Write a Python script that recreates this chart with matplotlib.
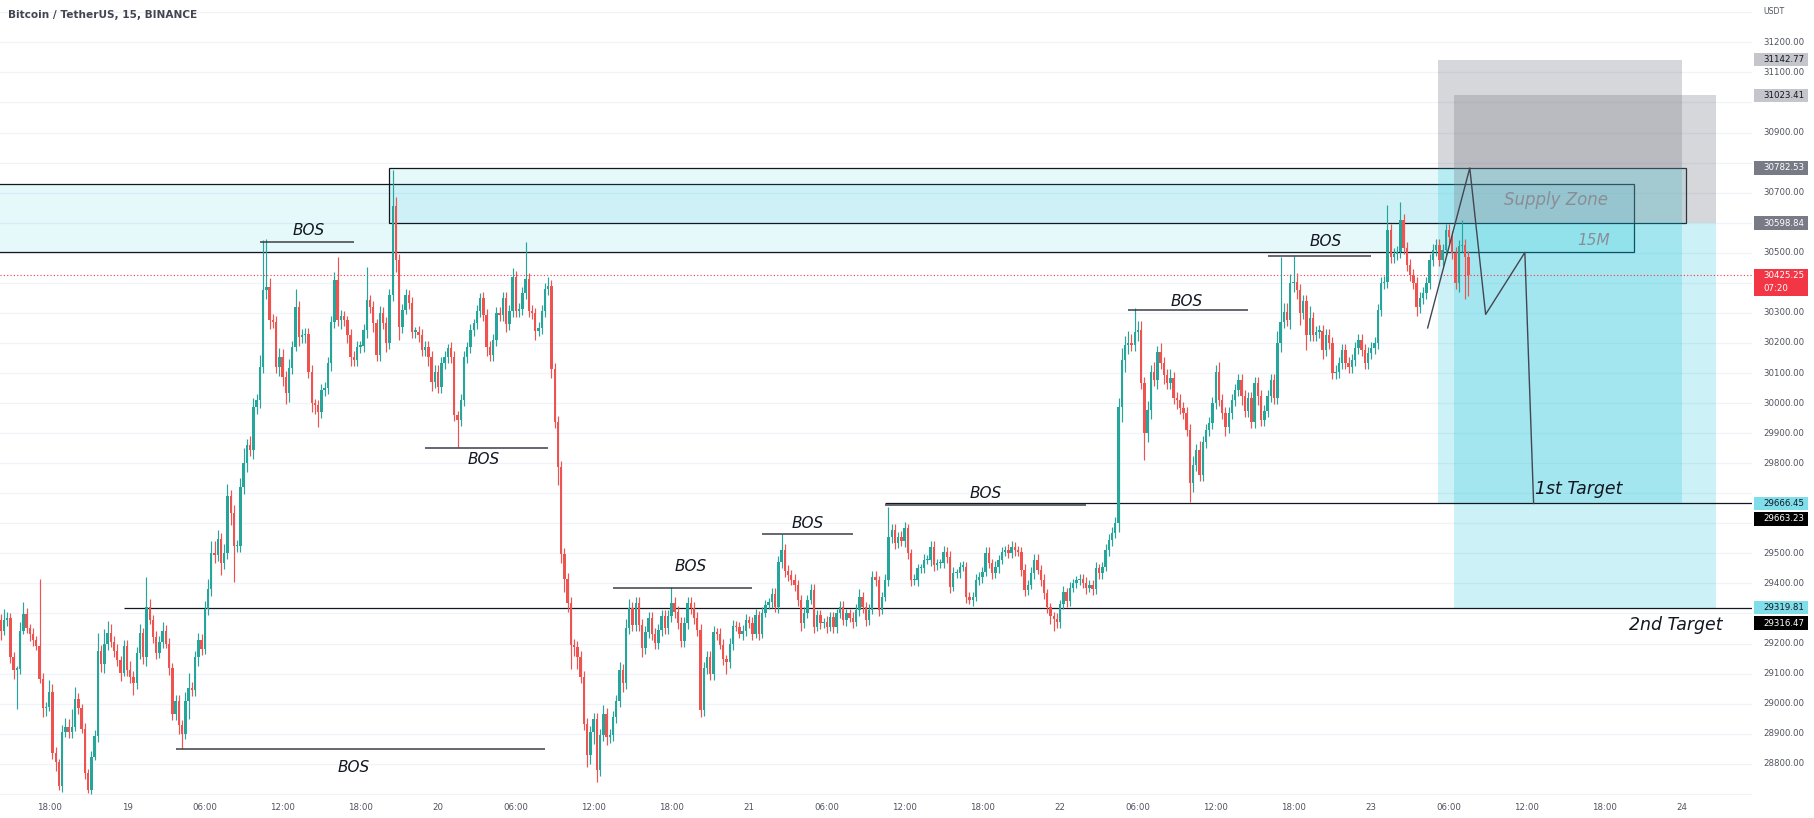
import numpy as np
import matplotlib
matplotlib.use("Agg")
import matplotlib.pyplot as plt
from matplotlib.patches import Rectangle

W, H = 1814, 818

# 15 minute candles, BTC/USDT, from 18 Jun 14:15 to 23 Jun 07:30
first_open = 29279
closes = [
    29242, 29279, 29285, 29156, 29113, 29115, 29242, 29297, 29250, 29230,
    29211, 29193, 29082, 28984, 28990, 29039, 28837, 28806, 28726, 28904,
    28923, 28904, 28923, 29015, 28984, 28916, 28769, 28714, 28824, 28892,
    29174, 29131, 29199, 29236, 29205, 29174, 29144, 29101, 29193, 29113,
    29088, 29070, 29168, 29236, 29156, 29322, 29279, 29223, 29168, 29205,
    29242, 29199, 29119, 28966, 29008, 28929, 28898, 29008, 29051, 29045,
    29156, 29211, 29181, 29316, 29383, 29500, 29494, 29549, 29469, 29500,
    29690, 29635, 29524, 29524, 29721, 29800, 29860, 29845, 29988, 30010,
    30121, 30376, 30387, 30276, 30271, 30121, 30154, 30088, 30032, 30116,
    30188, 30321, 30221, 30226, 30230, 30105, 30000, 29995, 29971, 30044,
    30050, 30132, 30271, 30410, 30276, 30290, 30276, 30226, 30154, 30143,
    30188, 30190, 30243, 30343, 30320, 30265, 30160, 30299, 30265, 30199,
    30360, 30654, 30476, 30254, 30310, 30360, 30332, 30238, 30238, 30227,
    30177, 30188, 30154, 30071, 30105, 30055, 30132, 30154, 30182, 30154,
    29960, 29944, 30010, 30154, 30188, 30243, 30265, 30306, 30348, 30294,
    30185, 30161, 30209, 30300, 30294, 30348, 30263, 30306, 30420, 30306,
    30312, 30366, 30414, 30306, 30300, 30239, 30251, 30306, 30378, 30390,
    30113, 29938, 29787, 29498, 29413, 29335, 29196, 29190, 29154, 29088,
    28931, 28828, 28907, 28949, 28780, 28895, 28967, 28889, 28895, 28955,
    29009, 29112, 29070, 29250, 29317, 29262, 29335, 29262, 29184, 29238,
    29286, 29232, 29202, 29244, 29293, 29250, 29293, 29335, 29305, 29269,
    29208, 29269, 29335, 29317, 29286, 29244, 28979, 29118, 29154, 29100,
    29238, 29233, 29196, 29148, 29140, 29198, 29259, 29255, 29233, 29240,
    29277, 29268, 29233, 29294, 29233, 29303, 29329, 29338, 29364, 29320,
    29470, 29510, 29440, 29428, 29411, 29395, 29345, 29267, 29300, 29345,
    29378, 29256, 29295, 29267, 29270, 29256, 29289, 29256, 29300, 29323,
    29278, 29300, 29285, 29273, 29312, 29356, 29323, 29278, 29312, 29422,
    29411, 29312, 29356, 29411, 29555, 29578, 29533, 29555, 29540, 29583,
    29500, 29411, 29411, 29450, 29450, 29478, 29478, 29522, 29461, 29467,
    29467, 29506, 29489, 29389, 29434, 29434, 29456, 29456, 29356, 29345,
    29356, 29411, 29422, 29439, 29500, 29467, 29433, 29456, 29478, 29506,
    29511, 29500, 29522, 29511, 29505, 29445, 29378, 29395, 29433, 29478,
    29445, 29411, 29367, 29320, 29290, 29280, 29270, 29330, 29370, 29340,
    29385, 29400, 29410, 29415, 29400, 29385, 29395, 29380, 29450, 29433,
    29456, 29511, 29544, 29567, 29600, 29988, 30143, 30193, 30200, 30193,
    30238, 30243, 30066, 29899, 29977, 30105, 30077, 30171, 30132, 30093,
    30066, 30082, 30016, 30010, 29983, 29966, 29910, 29733, 29794, 29844,
    29761, 29872, 29910, 29933, 30000, 30105, 30010, 29966, 29922, 29966,
    30010, 30044, 30077, 30022, 29972, 30016, 29938, 30066, 30022, 29944,
    29972, 30022, 30077, 30016, 30199, 30271, 30304, 30276, 30399, 30404,
    30376, 30299, 30340, 30227, 30282, 30227, 30238, 30240, 30177, 30227,
    30199, 30099, 30105, 30132, 30177, 30132, 30121, 30143, 30182, 30210,
    30177, 30132, 30166, 30182, 30199, 30310, 30399, 30404, 30576, 30487,
    30495, 30504, 30609, 30515, 30460, 30426, 30399, 30321, 30349, 30365,
    30399, 30476, 30509, 30526, 30476, 30509, 30576, 30554, 30498, 30399,
    30521, 30526, 30487, 30425,
]
# wick length above / below the body, USDT
up_wick = [
    20, 35, 20, 15, 15, 10, 30, 40, 20, 15, 20, 15, 220, 20, 15, 40, 25, 20, 10, 25,
    30, 25, 60, 40, 20, 15, 20, 15, 20, 20, 60, 20, 50, 40, 30, 20, 25, 15, 20, 20,
    30, 20, 20, 30, 15, 100, 25, 15, 20, 20, 30, 20, 20, 15, 20, 20, 15, 30, 50, 20,
    20, 25, 20, 25, 30, 40, 40, 30, 20, 30, 40, 20, 25, 20, 30, 50, 20, 30, 30, 20,
    40, 167, 160, 30, 20, 20, 30, 25, 20, 30, 20, 60, 20, 20, 20, 20, 20, 15, 15, 20,
    20, 20, 20, 27, 75, 20, 15, 15, 20, 20, 20, 15, 20, 111, 15, 20, 15, 25, 20, 20,
    20, 122, 30, 20, 20, 20, 15, 20, 15, 20, 20, 20, 20, 20, 20, 20, 20, 20, 15, 20,
    20, 15, 20, 20, 15, 20, 15, 20, 17, 20, 20, 20, 20, 20, 20, 20, 20, 20, 30, 20,
    20, 20, 121, 20, 20, 15, 20, 20, 20, 30, 20, 20, 20, 20, 20, 20, 20, 20, 20, 20,
    20, 20, 20, 20, 20, 20, 30, 20, 20, 20, 20, 25, 20, 30, 30, 20, 20, 20, 20, 20,
    20, 20, 20, 20, 20, 20, 20, 54, 20, 20, 20, 20, 20, 20, 20, 20, 20, 20, 20, 20,
    20, 15, 20, 20, 15, 20, 20, 15, 15, 20, 20, 15, 20, 20, 15, 20, 15, 15, 20, 20,
    20, 55, 20, 20, 15, 20, 15, 15, 20, 15, 20, 20, 15, 15, 15, 20, 15, 15, 15, 20,
    20, 15, 15, 20, 20, 25, 15, 15, 20, 20, 20, 15, 15, 20, 100, 20, 20, 15, 20, 20,
    15, 15, 20, 15, 15, 20, 15, 20, 20, 15, 15, 20, 15, 20, 20, 15, 15, 20, 15, 15,
    15, 20, 15, 15, 20, 20, 15, 20, 15, 15, 15, 20, 20, 15, 15, 15, 20, 15, 20, 20,
    20, 15, 20, 15, 15, 15, 20, 15, 20, 15, 20, 15, 15, 15, 15, 20, 15, 15, 20, 15,
    15, 20, 20, 20, 20, 30, 40, 30, 40, 30, 77, 30, 30, 20, 30, 20, 30, 20, 30, 20,
    20, 30, 20, 20, 20, 20, 20, 20, 30, 20, 30, 20, 20, 20, 20, 20, 30, 20, 20, 20,
    20, 20, 20, 20, 20, 20, 20, 20, 20, 20, 20, 20, 20, 20, 40, 216, 30, 30, 30, 86,
    30, 20, 20, 20, 40, 20, 20, 20, 20, 20, 20, 20, 20, 20, 20, 20, 20, 20, 20, 20,
    20, 20, 20, 20, 20, 20, 20, 20, 83, 20, 20, 20, 61, 20, 20, 20, 20, 20, 20, 20,
    20, 20, 20, 20, 20, 20, 20, 20, 20, 20, 20, 83, 20, 20,
]
dn_wick = [
    30, 15, 20, 20, 30, 130, 15, 10, 15, 20, 20, 15, 15, 30, 25, 15, 20, 30, 12, 20,
    15, 20, 20, 15, 20, 15, 20, 10, 15, 10, 20, 25, 30, 20, 15, 20, 20, 25, 10, 20,
    20, 40, 20, 20, 25, 30, 15, 20, 20, 15, 20, 15, 25, 20, 20, 30, 50, 15, 60, 20,
    20, 30, 20, 15, 20, 25, 25, 20, 40, 20, 20, 40, 120, 20, 20, 25, 30, 20, 30, 25,
    25, 20, 30, 30, 20, 20, 30, 30, 35, 30, 20, 15, 30, 20, 25, 20, 30, 30, 50, 20,
    20, 20, 25, 20, 20, 30, 20, 25, 30, 20, 20, 20, 20, 25, 20, 30, 20, 20, 20, 30,
    20, 20, 40, 45, 20, 15, 20, 20, 20, 25, 20, 20, 30, 30, 20, 20, 20, 20, 20, 20,
    20, 89, 20, 20, 20, 20, 20, 20, 20, 20, 30, 20, 20, 20, 20, 20, 25, 20, 20, 20,
    20, 20, 20, 20, 20, 30, 15, 20, 20, 20, 30, 20, 60, 30, 40, 30, 80, 30, 40, 20,
    20, 40, 30, 40, 40, 20, 20, 25, 20, 20, 20, 20, 30, 20, 20, 20, 20, 20, 30, 20,
    20, 20, 20, 20, 20, 20, 20, 20, 20, 20, 20, 20, 20, 20, 20, 20, 25, 20, 20, 20,
    20, 20, 15, 20, 40, 20, 20, 15, 15, 20, 15, 15, 20, 15, 20, 15, 15, 15, 20, 15,
    20, 20, 20, 20, 15, 20, 20, 25, 15, 15, 15, 20, 15, 20, 15, 20, 15, 20, 20, 15,
    15, 20, 15, 20, 15, 20, 20, 20, 15, 15, 20, 20, 15, 15, 20, 20, 20, 15, 15, 20,
    20, 20, 15, 20, 15, 15, 15, 20, 20, 15, 15, 15, 20, 20, 15, 15, 15, 15, 20, 15,
    20, 15, 15, 20, 15, 15, 20, 15, 20, 15, 15, 15, 15, 20, 15, 20, 20, 15, 15, 20,
    15, 20, 20, 20, 25, 40, 20, 20, 15, 20, 15, 15, 15, 15, 15, 20, 15, 20, 15, 20,
    20, 15, 20, 20, 15, 30, 50, 40, 30, 20, 20, 30, 20, 89, 30, 30, 20, 30, 20, 30,
    20, 20, 20, 30, 20, 20, 20, 61, 30, 20, 20, 20, 20, 20, 20, 20, 20, 20, 30, 20,
    20, 20, 20, 30, 20, 20, 20, 20, 30, 20, 20, 20, 20, 20, 20, 30, 20, 20, 30, 30,
    30, 40, 20, 50, 20, 20, 20, 20, 30, 20, 20, 20, 20, 20, 20, 20, 20, 20, 20, 20,
    20, 20, 20, 20, 20, 20, 20, 20, 20, 20, 20, 20, 20, 20, 20, 20, 20, 30, 20, 20,
    20, 20, 20, 20, 20, 20, 20, 20, 20, 20, 30, 20, 140, 70,
]

# time axis (candle index -> label)
time_ticks = [15, 39, 63, 87, 111, 135, 159, 183, 207, 231, 255,
              279, 303, 327, 351, 375, 399, 423, 447, 471, 495, 519]
time_labels = ["18:00", "19", "06:00", "12:00", "18:00", "20", "06:00", "12:00",
               "18:00", "21", "06:00", "12:00", "18:00", "22", "06:00", "12:00",
               "18:00", "23", "06:00", "12:00", "18:00", "24"]
price_ticks = list(range(28800, 31300, 100))
last_price = 30425.25

# drawings: BOS segments (start, end, level) and their label (centre, level)
bos_lines = [(80, 109, 30537), (131, 169, 29850), (54, 168, 28850), (189, 232, 29385),
             (235, 263, 29564), (273, 335, 29660), (348, 385, 30308), (391, 423, 30488)]
bos_text = [(95, 30575), (149, 29813), (109, 28786), (213, 29455),
            (249, 29599), (304, 29698), (366, 30339), (409, 30536)]
old_zone = (-5, 504, 30501, 30728)
new_zone = (120, 520, 30598.84, 30782.53)
target_levels = [(273, 29666.45), (38, 29319.81)]
# short positions: start, end, entry, stop, target
positions = [(443.5, 519, 30782.53, 31142.77, 29666.45),
             (448.5, 529.3, 30598.84, 31023.41, 29319.81)]
path_x = [440.4, 453.4, 458.3, 470.4, 473.1]
path_y = [30250, 30782, 30295, 30501, 29666]

tag_values = [31142.77, 31023.41, 30782.53, 30598.84, 30425.25,
              29666.45, 29663.23, 29319.81, 29316.47]

GREEN, RED = "#26a69a", "#ef5350"
TXT = "#131722"

fig = plt.figure(figsize=(W / 100, H / 100), dpi=100)
fig.patch.set_facecolor("white")
ax = fig.add_axes([0, 23 / H, 1752 / W, 795 / H])
ax.set_xlim(-0.2, 540.5)
ax.set_ylim(28696, 31341)
for s in ax.spines.values():
    s.set_visible(False)

ax.set_yticks(np.arange(28700, 31400, 100))
ax.tick_params(axis="y", left=False, labelleft=False)
ax.grid(axis="y", color="#f0f3fa", lw=0.9, zorder=0)
ax.set_xticks(time_ticks)
ax.set_xticklabels(time_labels, fontsize=6.2, color="#50535e")
ax.tick_params(axis="x", length=0, pad=5.5)

# candles
o = np.array([first_open] + closes[:-1], dtype=float)
c = np.array(closes, dtype=float)
idx = np.arange(len(c))
hi = np.maximum(o, c) + np.array(up_wick)
lo = np.minimum(o, c) - np.array(dn_wick)
col = np.where(c >= o, GREEN, RED)
ax.vlines(idx, lo, hi, colors=col, lw=0.85, zorder=5)
ax.bar(idx, np.maximum(np.abs(c - o), 4), bottom=np.minimum(o, c), width=0.74,
       color=col, lw=0, zorder=6)

# supply zones
for x0, x1, p0, p1 in [old_zone, new_zone]:
    ax.add_patch(Rectangle((x0, p0), x1 - x0, p1 - p0, fc=(0, 188 / 255, 212 / 255, 0.1),
                           ec="#131722", lw=0.9, zorder=2))

# position tools
for x0, x1, entry, stop, tgt in positions:
    ax.add_patch(Rectangle((x0, entry), x1 - x0, stop - entry,
                           fc=(120 / 255, 123 / 255, 134 / 255, 0.3), lw=0, zorder=3))
    ax.add_patch(Rectangle((x0, tgt), x1 - x0, entry - tgt,
                           fc=(0, 188 / 255, 212 / 255, 0.2), lw=0, zorder=3))

for x0, lvl in target_levels:
    ax.hlines(lvl, x0, 541, color="#131722", lw=0.9, zorder=4)

for (x0, x1, lvl), (tx, ty) in zip(bos_lines, bos_text):
    ax.hlines(lvl, x0, x1, color="#3c3f47", lw=1.1, zorder=7)
    ax.text(tx, ty, "BOS", fontsize=11, style="italic", color=TXT,
            ha="center", va="center", zorder=8)

ax.axhline(last_price, color="#f23645", lw=0.8, ls=(0, (1, 2)), zorder=4)
ax.plot(path_x, path_y, color="#434651", lw=1, zorder=7)

ax.text(480, 30676, "Supply Zone", fontsize=12, style="italic", color="#8a8d96",
        ha="center", va="center", zorder=8)
ax.text(491.7, 30540, "15M", fontsize=11, style="italic", color="#8a8d96",
        ha="center", va="center", zorder=8)
ax.text(473.5, 29715, "1st Target", fontsize=12.5, style="italic", color=TXT,
        ha="left", va="center", zorder=8)
ax.text(502.5, 29262, "2nd Target", fontsize=12.5, style="italic", color=TXT,
        ha="left", va="center", zorder=8)

# title
fig.text(8 / W, 1 - 15 / H, "Bitcoin / TetherUS, 15, BINANCE", fontsize=7.6,
         fontweight="bold", color="#434651", ha="left", va="center")


# right price scale
def py(price):
    return ax.transData.transform((0, price))[1]


tag_style = {
    31142.77: ("#c4c6cc", TXT, 0),
    31023.41: ("#c4c6cc", TXT, 0),
    30782.53: ("#787b86", "white", 0),
    30598.84: ("#787b86", "white", 0),
    30425.25: ("#f23645", "white", 0),
    29666.45: ("#80deea", TXT, 0),
    29663.23: ("#000000", "white", -14.5),
    29319.81: ("#80deea", TXT, 0),
    29316.47: ("#000000", "white", -14.5),
}

# boxes of the price tags, in pixels (bottom, top)
tag_boxes = []
for v in tag_values:
    bg, fg, shift = tag_style[v]
    yc = py(v) + shift
    if v == last_price:
        top, hgt = yc + 6.5, 27
    else:
        top, hgt = yc + 6.75, 13.5
    tag_boxes.append((top - hgt, top))
    fig.patches.append(Rectangle((1754 / W, (top - hgt) / H), 54 / W, hgt / H,
                                 transform=fig.transFigure, fc=bg, lw=0, zorder=5))
    fig.text(1763 / W, yc / H, f"{v:.2f}", fontsize=6.2, color=fg, va="center",
             ha="left", zorder=6)
    if v == last_price:
        fig.text(1763 / W, (yc - 13) / H, "07:20", fontsize=6.2, color=fg,
                 va="center", ha="left", zorder=6)

fig.text(1763 / W, 1 - 11.5 / H, "USDT", fontsize=5.6, color="#50535e", va="center")
for p in price_ticks:
    y = py(p)
    # labels hidden behind a price tag are not drawn
    if any(b0 - 4 < y < b1 + 4 for b0, b1 in tag_boxes):
        continue
    fig.text(1763 / W, y / H, f"{p:.2f}", fontsize=6.2, color="#50535e",
             va="center", ha="left")

fig.savefig("out.png", dpi=100)
